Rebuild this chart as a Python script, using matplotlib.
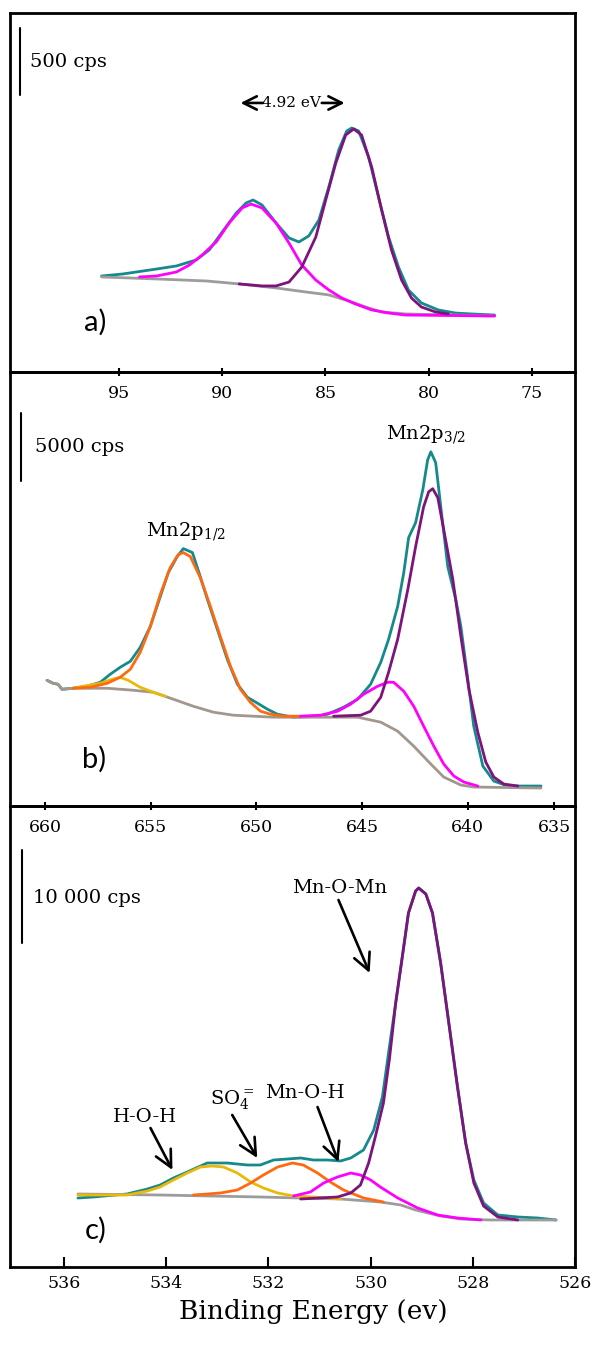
import matplotlib
matplotlib.use("Agg")
import matplotlib.pyplot as plt

plt.rcParams["font.family"] = ["DejaVu Serif"]
plt.rcParams["mathtext.fontset"] = "dejavuserif"
plt.rcParams["mathtext.default"] = "regular"
plt.rcParams["lines.solid_joinstyle"] = "round"
plt.rcParams["lines.solid_capstyle"] = "round"

TEAL = "#16898c"
PURPLE = "#7d137d"
MAGENTA = "#ff00ff"
ORANGE = "#ff6a10"
YELLOW = "#e9b90a"
GREY = "#9c9c9c"

# ---- panel a: Mn 3s ----
a_env_e = [95.86, 94.84, 93.20, 92.23, 91.27, 90.64, 90.01, 89.33, 88.85, 88.51, 88.08, 87.40, 86.77,
           86.29, 85.81, 85.32, 84.84, 84.36, 83.97, 83.73, 83.39, 82.91, 82.43, 81.94, 81.46, 80.98,
           80.35, 79.53, 78.71, 77.93, 76.80]
a_env_i = [701, 716, 753, 776, 821, 895, 1029, 1171, 1246, 1268, 1231, 1097, 985,
           955, 1000, 1119, 1365, 1641, 1783, 1805, 1783, 1589, 1291, 992, 768, 597,
           500, 448, 425, 418, 410]
a_mag_e = [94.02, 93.20, 92.23, 91.60, 90.98, 90.30, 89.67, 89.04, 88.61, 88.08, 87.40, 86.77, 86.15,
           85.47, 84.84, 84.21, 83.54, 82.76, 81.94, 81.12, 76.80]
a_mag_i = [694, 701, 731, 783, 858, 955, 1097, 1209, 1238, 1209, 1097, 947, 783,
           671, 597, 537, 492, 448, 425, 410, 403]
a_pur_e = [89.19, 88.08, 87.40, 86.77, 86.15, 85.47, 84.99, 84.50, 84.02, 83.63, 83.25, 82.76, 82.28,
           81.80, 81.31, 80.83, 80.35, 79.67, 79.04]
a_pur_i = [642, 627, 627, 656, 768, 992, 1268, 1544, 1753, 1798, 1753, 1514, 1194,
           895, 671, 537, 470, 433, 418]
a_bg_e = [95.86, 93.20, 90.78, 89.19, 87.40, 85.95, 84.84, 83.87, 83.05, 82.28, 81.12, 76.80]
a_bg_i = [694, 679, 664, 642, 612, 582, 560, 515, 470, 433, 418, 403]
a_ticks = [95, 90, 85, 80, 75]

# ---- panel b: Mn 2p ----
b_env_e = [659.91, 659.62, 659.39, 659.20, 658.67, 658.01, 657.39, 656.92, 656.45, 655.97, 655.50,
           655.02, 654.55, 654.17, 653.75, 653.46, 653.03, 652.66, 652.32, 651.85, 651.38, 650.90,
           650.43, 649.95, 649.48, 649.01, 648.25, 646.97, 646.64, 645.88, 645.21, 644.60, 644.12,
           643.75, 643.32, 643.03, 642.80, 642.47, 642.13, 641.90, 641.75, 641.52, 641.28, 640.95,
           640.57, 640.33, 640.00, 639.72, 639.29, 638.77, 638.11, 636.54]
b_env_i = [9188, 8967, 8894, 8526, 8600, 8747, 9041, 9629, 10143, 10584, 11613,
           13157, 15362, 17126, 18302, 18890, 18596, 16832, 15141, 12936, 10731, 8894,
           7938, 7497, 7056, 6689, 6468, 6542, 6689, 7203, 7791, 8894, 10511,
           12201, 14627, 17126, 19698, 20801, 23226, 25431, 26019, 25211, 21977, 17567,
           15141, 13157, 9261, 5807, 2867, 1764, 1397, 1397]
b_org_e = [658.67, 657.87, 657.06, 656.45, 655.97, 655.50, 655.02, 654.55, 654.08, 653.70, 653.46,
           653.13, 652.66, 652.18, 651.71, 651.23, 650.76, 650.29, 649.81, 649.34, 648.72, 647.92]
b_org_i = [8600, 8673, 8967, 9408, 9996, 11246, 13157, 15509, 17493, 18449, 18596,
           18302, 16758, 14627, 12422, 10217, 8526, 7571, 6909, 6689, 6542, 6542]
b_yel_e = [658.67, 658.20, 657.39, 656.83, 656.45, 656.07, 655.50, 654.88, 654.31]
b_yel_i = [8600, 8747, 8967, 9261, 9408, 9188, 8673, 8306, 8012]
b_mag_e = [647.92, 646.97, 646.16, 645.55, 644.93, 644.27, 643.79, 643.51, 643.03, 642.56, 642.09,
           641.61, 641.14, 640.66, 640.19, 639.53]
b_mag_i = [6542, 6615, 6909, 7424, 8159, 8747, 9041, 9041, 8379, 7277, 5807,
           4337, 3014, 2132, 1691, 1397]
b_pur_e = [646.35, 645.07, 644.60, 644.12, 643.75, 643.32, 642.84, 642.47, 642.09, 641.85, 641.66,
           641.42, 641.14, 640.71, 640.33, 639.95, 639.53, 639.15, 638.77, 638.30, 637.63]
b_pur_i = [6542, 6615, 6909, 7938, 9776, 12201, 15876, 19037, 21977, 23079, 23300,
           22638, 20286, 16611, 12422, 8526, 5366, 3161, 2058, 1544, 1397]
b_bg_e = [659.91, 659.62, 659.39, 659.20, 658.67, 657.06, 655.83, 654.88, 653.93, 652.99, 652.04,
          651.09, 649.20, 645.21, 644.12, 643.32, 642.56, 641.75, 641.14, 640.33, 639.72, 636.54]
b_bg_i = [9188, 8967, 8894, 8526, 8600, 8600, 8453, 8306, 7791, 7277, 6836,
          6615, 6468, 6468, 6101, 5439, 4337, 3014, 2058, 1470, 1323, 1250]
b_ticks = [660, 655, 650, 645, 640, 635.9]
b_tick_labels = ["660", "655", "650", "645", "640", "635"]

# ---- panel c: O 1s ----
c_env_e = [535.73, 535.43, 534.77, 534.37, 534.12, 533.86, 533.59, 533.33, 533.20, 532.81, 532.41,
           532.16, 531.90, 531.63, 531.37, 531.12, 530.84, 530.59, 530.39, 530.14, 529.94, 529.77,
           529.65, 529.51, 529.37, 529.26, 529.12, 529.06, 528.92, 528.79, 528.63, 528.47, 528.30,
           528.14, 527.98, 527.79, 527.51, 527.12, 526.73, 526.37]
c_env_i = [7418, 7525, 7848, 8385, 8815, 9568, 10213, 10858, 11180, 11180, 10965,
           10965, 11503, 11610, 11718, 11503, 11503, 11395, 11718, 12578, 14728, 18275,
           23005, 28380, 33755, 38055, 40420, 40743, 40098, 38055, 32680, 26230, 19350,
           13330, 9353, 6880, 5590, 5375, 5268, 5053]
c_pur_e = [531.37, 530.65, 530.39, 530.20, 530.04, 529.90, 529.75, 529.63, 529.51, 529.37, 529.26,
           529.12, 529.06, 528.92, 528.79, 528.63, 528.47, 528.30, 528.14, 527.98, 527.79, 527.51,
           527.12]
c_pur_i = [7310, 7525, 7955, 8815, 11180, 14190, 17630, 22468, 28380, 33755, 38055,
           40420, 40743, 40098, 38055, 32680, 26230, 19350, 13330, 9030, 6558, 5375,
           5053]
c_yel_e = [535.73, 534.77, 534.37, 534.12, 533.86, 533.59, 533.33, 533.10, 532.88, 532.61, 532.35,
           532.10, 531.82, 531.51, 531.12, 530.59]
c_yel_i = [7740, 7740, 8170, 8600, 9353, 10105, 10750, 10858, 10750, 10105, 9138,
           8493, 7955, 7633, 7525, 7310]
c_org_e = [533.47, 532.94, 532.61, 532.35, 532.10, 531.82, 531.53, 531.32, 531.04, 530.79, 530.53,
           530.14, 529.75]
c_org_i = [7740, 7955, 8278, 9030, 9890, 10750, 11180, 10965, 10105, 9138, 8278,
           7418, 6988]
c_mag_e = [531.51, 531.18, 530.92, 530.79, 530.65, 530.39, 530.20, 530.00, 529.81, 529.47, 529.08,
           528.69, 528.30, 527.84]
c_mag_i = [7633, 8063, 9030, 9353, 9675, 10105, 9890, 9353, 8600, 7418, 6343,
           5590, 5268, 5053]
c_bg_e = [535.73, 534.12, 532.16, 530.59, 529.81, 529.41, 529.12, 528.63, 528.24, 527.65, 526.37]
c_bg_i = [7848, 7740, 7525, 7310, 6988, 6665, 6128, 5483, 5160, 5053, 5053]
c_ticks = [536, 534, 532, 530, 528, 526]

LW = 2.0


def style_axis(ax, ticks, labels, direction, length):
    ax.patch.set_alpha(0)
    for sp in ax.spines.values():
        sp.set_linewidth(2.0)
    ax.set_xticks(ticks)
    ax.set_xticklabels(labels)
    ax.tick_params(axis="x", direction=direction, length=length, width=1.5, labelsize=12.5, pad=6)
    ax.tick_params(axis="y", left=False, labelleft=False)


def scale_bar(ax, e, i0, i1, label, te, ti):
    ax.plot([e, e], [i0, i1], color="black", lw=1.5)
    ax.text(te, ti, label, fontsize=14, va="center", ha="left")


def panel_label(ax, e, i, label):
    ax.text(e, i, label, fontsize=21, family=["Lato", "DejaVu Sans"], ha="center", va="center")


fig = plt.figure(figsize=(5.92, 13.46), dpi=100)
left, width = 10 / 592, 565 / 592

# panel a
ax_a = fig.add_axes([left, 1 - 372 / 1346, width, 359 / 1346])
ax_a.plot(a_env_e, a_env_i, color=TEAL, lw=LW)
ax_a.plot(a_bg_e, a_bg_i, color=GREY, lw=LW)
ax_a.plot(a_mag_e, a_mag_i, color=MAGENTA, lw=LW)
ax_a.plot(a_pur_e, a_pur_i, color=PURPLE, lw=LW)
ax_a.set_xlim(100.3, 72.9)
ax_a.set_ylim(-15, 2663)
style_axis(ax_a, a_ticks, [str(t) for t in a_ticks], "inout", 6)
scale_bar(ax_a, 99.82, 2551, 2051, "500 cps", 99.33, 2298)
ax_a.text(86.63, 1992, "4.92 eV", fontsize=11, ha="center", va="center")
for tail, tip in [(88.03, 89.12), (85.18, 84.07)]:
    ax_a.annotate("", xy=(tip, 1992), xytext=(tail, 1992),
                  arrowprops=dict(arrowstyle="->", lw=1.9, mutation_scale=24, shrinkA=0, shrinkB=0))
panel_label(ax_a, 96.19, 358, "a)")

# panel b
ax_b = fig.add_axes([left, 1 - 806 / 1346, width, 434 / 1346])
ax_b.plot(b_env_e, b_env_i, color=TEAL, lw=LW)
ax_b.plot(b_bg_e, b_bg_i, color="#a3978d", lw=LW)
ax_b.plot(b_yel_e, b_yel_i, color=YELLOW, lw=LW)
ax_b.plot(b_org_e, b_org_i, color=ORANGE, lw=LW)
ax_b.plot(b_mag_e, b_mag_i, color=MAGENTA, lw=LW)
ax_b.plot(b_pur_e, b_pur_i, color=PURPLE, lw=LW)
ax_b.set_xlim(661.66, 634.93)
ax_b.set_ylim(-74, 31899)
style_axis(ax_b, b_ticks, b_tick_labels, "inout", 6)
scale_bar(ax_b, 661.14, 28886, 23888, "5000 cps", 660.48, 26387)
ax_b.text(641.99, 27269, "Mn2p$_{3/2}$", fontsize=14, ha="center", va="center")
ax_b.text(653.32, 20139, "Mn2p$_{1/2}$", fontsize=14, ha="center", va="center")
panel_label(ax_b, 657.68, 3381, "b)")

# panel c
ax_c = fig.add_axes([left, 1 - 1267 / 1346, width, 461 / 1346])
ax_c.plot(c_env_e, c_env_i, color=TEAL, lw=LW)
ax_c.plot(c_bg_e, c_bg_i, color=GREY, lw=LW)
ax_c.plot(c_yel_e, c_yel_i, color=YELLOW, lw=LW)
ax_c.plot(c_org_e, c_org_i, color=ORANGE, lw=LW)
ax_c.plot(c_mag_e, c_mag_i, color=MAGENTA, lw=LW)
ax_c.plot(c_pur_e, c_pur_i, color=PURPLE, lw=LW)
ax_c.set_xlim(537.06, 526.0)
ax_c.set_ylim(0, 49558)
style_axis(ax_c, c_ticks, [str(t) for t in c_ticks], "in", 7)
scale_bar(ax_c, 536.83, 44828, 34830, "10 000 cps", 536.61, 39668)

annotations = [
    ("Mn-O-Mn", (530.61, 40743), (530.63, 39453), (530.02, 31605)),
    ("H-O-H", (534.41, 16125), (534.31, 14943), (533.88, 10428)),
    ("SO$_4^{=}$", (532.71, 17953), (532.71, 16340), (532.22, 11718)),
    ("Mn-O-H", (531.28, 18705), (531.04, 17200), (530.63, 11288)),
]
for label, pos, tail, tip in annotations:
    ax_c.text(pos[0], pos[1], label, fontsize=14, ha="center", va="center")
    ax_c.annotate("", xy=tip, xytext=tail,
                  arrowprops=dict(arrowstyle="->", lw=1.9, mutation_scale=30, shrinkA=0, shrinkB=0))
panel_label(ax_c, 535.39, 3978, "c)")

fig.text(313 / 592, 1 - 1312 / 1346, "Binding Energy (ev)", fontsize=19, ha="center", va="center")

fig.savefig("out.png", dpi=100, facecolor="white")
